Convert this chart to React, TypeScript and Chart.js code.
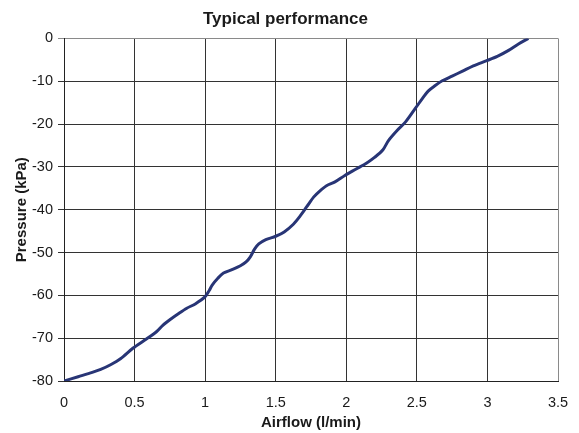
import React, { useEffect, useRef } from "react";
import { Chart, registerables } from "chart.js";

Chart.register(...registerables);

const airflow = [0, 0.1, 0.2, 0.26, 0.33, 0.4, 0.49, 0.57, 0.655, 0.7, 0.75, 0.81, 0.87, 0.93, 1.0, 1.03, 1.05, 1.09, 1.13, 1.19, 1.25, 1.29, 1.32, 1.35, 1.38, 1.43, 1.5, 1.56, 1.625, 1.67, 1.72, 1.77, 1.81, 1.86, 1.92, 1.99, 2.07, 2.145, 2.2, 2.26, 2.3, 2.36, 2.42, 2.49, 2.54, 2.58, 2.63, 2.68, 2.75, 2.82, 2.9, 2.995, 3.07, 3.15, 3.22, 3.29];
const pressure = [-80, -79, -78, -77.3, -76.2, -74.8, -72.3, -70.5, -68.5, -67, -65.7, -64.3, -63, -62, -60.3, -58.8, -57.6, -56, -54.8, -54, -53.1, -52.2, -51, -49.2, -48, -47, -46.2, -45.2, -43.4, -41.6, -39.3, -37, -35.7, -34.4, -33.5, -32, -30.5, -29.1, -27.8, -26, -23.8, -21.5, -19.5, -16.3, -14, -12.3, -11, -9.9, -8.8, -7.7, -6.4, -5.2, -4.2, -2.8, -1.3, 0];
const xTicks = [0, 0.5, 1, 1.5, 2, 2.5, 3, 3.5];
const yTicks = [0, -10, -20, -30, -40, -50, -60, -70, -80];

export default function App() {
  const ref = useRef<HTMLCanvasElement>(null);
  useEffect(() => {
    const ctx = ref.current!;
    const family = "Arial, 'Liberation Sans', sans-serif";
    const font = { family, size: 14.5 };
    const chart = new Chart(ctx, {
      type: "line",
      data: {
        datasets: [
          {
            data: airflow.map((x, i) => ({ x, y: pressure[i] })),
            borderColor: "#283576",
            borderWidth: 3,
            pointRadius: 0,
            tension: 0.3,
            fill: false,
          },
        ],
      },
      options: {
        animation: false,
        responsive: true,
        maintainAspectRatio: false,
        layout: { padding: { top: 5, right: 21, left: 13, bottom: 1.5 } },
        plugins: {
          legend: { display: false },
          tooltip: { enabled: false },
          title: {
            display: true,
            text: "Typical performance",
            color: "#1a1a1a",
            font: { family, size: 17, weight: "bold" },
            padding: { top: 4, bottom: 9 },
          },
        },
        scales: {
          x: {
            type: "linear",
            min: 0,
            max: 3.5,
            afterBuildTicks: (axis: any) => {
              axis.ticks = xTicks.map((v) => ({ value: v }));
            },
            afterFit: (scale: any) => {
              scale.height = 50.5;
              scale.paddingRight = 0;
              scale.paddingLeft = 0;
            },
            ticks: { color: "#1a1a1a", font, padding: 13, maxRotation: 0, callback: (v: any) => String(v) },
            grid: {
              color: (c: any) => (c.tick && c.tick.value === 3.5 ? "#8a8a8a" : "#333"),
              lineWidth: 1,
              drawTicks: false,
            },
            border: { color: "#222", width: 1 },
            title: {
              display: true,
              text: "Airflow (l/min)",
              color: "#1a1a1a",
              font: { family, size: 15, weight: "bold", lineHeight: 1.2 },
              padding: { top: 0, bottom: 0 },
            },
          },
          y: {
            type: "linear",
            min: -80,
            max: 0,
            afterBuildTicks: (axis: any) => {
              axis.ticks = yTicks.map((v) => ({ value: v }));
            },
            afterFit: (scale: any) => {
              scale.width = 51;
            },
            ticks: { color: "#1a1a1a", font, padding: 5, callback: (v: any) => String(v) },
            grid: {
              color: (c: any) => (c.tick && c.tick.value === 0 ? "#8a8a8a" : "#333"),
              lineWidth: 1,
              drawTicks: true,
              tickLength: 6,
            },
            border: { color: "#222", width: 1 },
            title: {
              display: true,
              text: "Pressure (kPa)",
              color: "#1a1a1a",
              font: { family, size: 15, weight: "bold", lineHeight: 1.2 },
              padding: { top: 0, bottom: 0 },
            },
          },
        },
      },
    });
    return () => chart.destroy();
  }, []);
  return (
    <div style={{ position: "fixed", left: 0, top: 0, width: 579, height: 433, background: "#fff" }}>
      <canvas ref={ref} />
    </div>
  );
}
